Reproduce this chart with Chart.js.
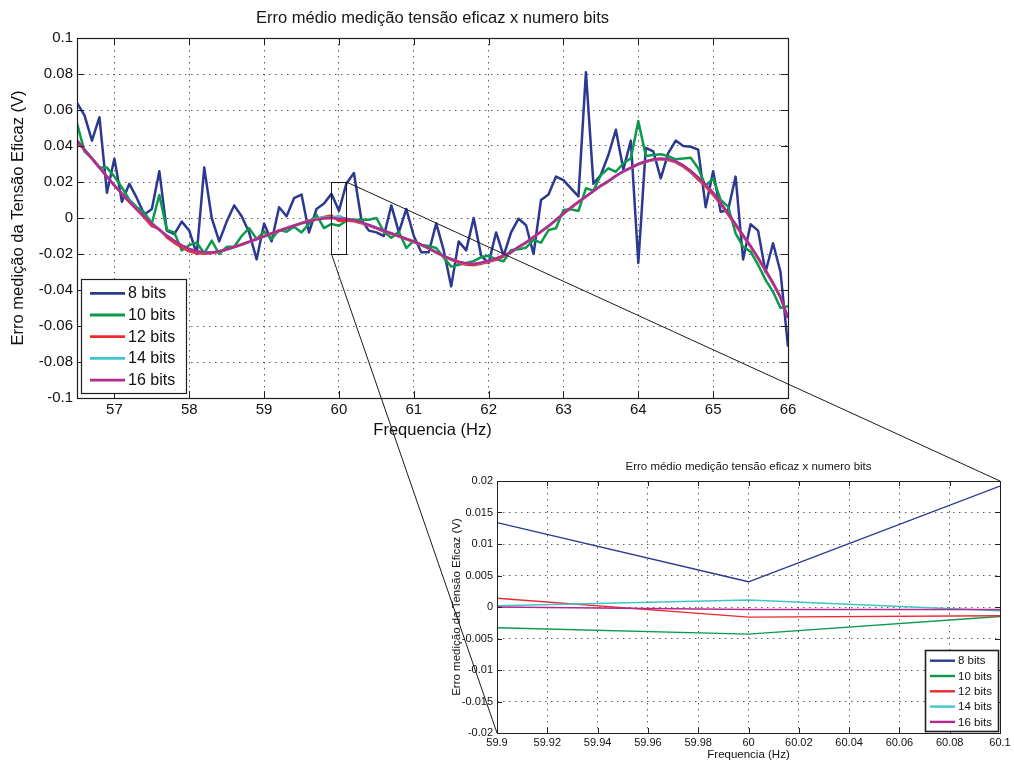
<!DOCTYPE html>
<html lang="pt">
<head>
<meta charset="utf-8">
<title>Erro médio medição tensão eficaz x numero bits</title>
<script src="https://cdn.jsdelivr.net/npm/chart.js@4.4.1/dist/chart.umd.min.js"></script>
<style>
  html, body { margin: 0; padding: 0; background: #fff; }
  #page { position: relative; width: 1014px; height: 762px; overflow: hidden; background: #fff; }
  canvas { position: absolute; display: block; }
  #mainChart { left: 0; top: 0; }
  #zoomChart { left: 440px; top: 450px; }
  #links { left: 0; top: 0; pointer-events: none; }
</style>
</head>
<body>
<div id="page">
  <canvas id="mainChart" width="1014" height="445"></canvas>
  <canvas id="zoomChart" width="574" height="312"></canvas>
  <canvas id="links" width="1014" height="762"></canvas>
</div>
<script>
// Frequency samples (Hz)
const freq = [
  56.5, 56.6, 56.7, 56.8, 56.9, 57.0, 57.1, 57.2, 57.3, 57.4,
  57.5, 57.6, 57.7, 57.8, 57.9, 58.0, 58.1, 58.2, 58.3, 58.4,
  58.5, 58.6, 58.7, 58.8, 58.9, 59.0, 59.1, 59.2, 59.3, 59.4,
  59.5, 59.6, 59.7, 59.8, 59.9, 60.0, 60.1, 60.2, 60.3, 60.4,
  60.5, 60.6, 60.7, 60.8, 60.9, 61.0, 61.1, 61.2, 61.3, 61.4,
  61.5, 61.6, 61.7, 61.8, 61.9, 62.0, 62.1, 62.2, 62.3, 62.4,
  62.5, 62.6, 62.7, 62.8, 62.9, 63.0, 63.1, 63.2, 63.3, 63.4,
  63.5, 63.6, 63.7, 63.8, 63.9, 64.0, 64.1, 64.2, 64.3, 64.4,
  64.5, 64.6, 64.7, 64.8, 64.9, 65.0, 65.1, 65.2, 65.3, 65.4,
  65.5, 65.6, 65.7, 65.8, 65.9, 66.0
];

// Mean RMS-voltage error (V) for each ADC resolution
const bits8 = [
  0.064, 0.057, 0.043, 0.056, 0.014, 0.033, 0.009, 0.019, 0.011, 0.002,
  0.005, 0.026, -0.007, -0.009, -0.002, -0.007, -0.020, 0.028, 0.000, -0.013,
  -0.002, 0.007, 0.001, -0.008, -0.023, -0.003, -0.013, 0.006, 0.001, 0.011,
  0.013, -0.008, 0.005, 0.008, 0.0134, 0.0040, 0.0192, 0.025, -0.001, -0.007,
  -0.008, -0.010, 0.007, -0.008, 0.005, -0.010, -0.019, -0.019, -0.003, -0.018,
  -0.038, -0.013, -0.018, 0.000, -0.021, -0.025, -0.008, -0.021, -0.008, -0.0004,
  -0.004, -0.020, 0.010, 0.013, 0.023, 0.021, 0.0165, 0.012, 0.081, 0.019,
  0.024, 0.035, 0.049, 0.027, 0.043, -0.025, 0.039, 0.037, 0.022, 0.036,
  0.043, 0.040, 0.0396, 0.038, 0.006, 0.026, 0.0035, 0.0044, 0.023, -0.023,
  -0.0035, -0.007, -0.030, -0.014, -0.030, -0.0715
];
const bits10 = [
  0.0526, 0.037, 0.033, 0.028, 0.028, 0.023, 0.017, 0.010, 0.006, 0.003,
  -0.003, 0.0128, -0.0067, -0.008, -0.018, -0.015, -0.0137, -0.0196, -0.0126, -0.020,
  -0.016, -0.016, -0.010, -0.0056, -0.0117, -0.0076, -0.0117, -0.0067, -0.0076, -0.0048,
  -0.008, -0.0033, 0.0017, -0.0056, -0.0033, -0.0043, -0.0015, -0.001, -0.001, -0.001,
  0.000, -0.0076, -0.011, -0.0076, -0.0167, -0.0126, -0.015, -0.0156, -0.0167, -0.022,
  -0.027, -0.026, -0.025, -0.024, -0.0217, -0.021, -0.023, -0.024, -0.0178, -0.0174,
  -0.0165, -0.0122, -0.0137, -0.0067, -0.0057, 0.0044, 0.0048, 0.0039, 0.0165, 0.0152,
  0.0239, 0.0276, 0.0257, 0.0304, 0.0331, 0.0539, 0.0344, 0.035, 0.0354, 0.0344,
  0.0326, 0.033, 0.0335, 0.0276, 0.0178, 0.022, 0.010, 0.0063, -0.0085, -0.016,
  -0.0187, -0.026, -0.0344, -0.041, -0.050, -0.049
];
const bits12 = [
  0.0425, 0.0378, 0.0332, 0.0283, 0.0228, 0.0182, 0.0133, 0.0088, 0.0045, 0.0002,
  -0.0045, -0.0062, -0.0108, -0.0138, -0.0163, -0.0185, -0.0196, -0.0199, -0.0196, -0.0188,
  -0.0176, -0.0161, -0.0146, -0.0132, -0.0115, -0.0100, -0.0085, -0.0069, -0.0055, -0.0041,
  -0.0027, -0.0014, -0.0004, 0.0006, 0.0014, -0.0016, -0.0014, -0.0018, -0.0029, -0.0042,
  -0.0058, -0.0075, -0.0088, -0.0103, -0.0118, -0.0134, -0.0151, -0.0170, -0.0192, -0.0213,
  -0.0232, -0.0249, -0.0260, -0.0262, -0.0254, -0.0243, -0.0232, -0.0214, -0.0192, -0.0163,
  -0.0138, -0.0107, -0.0077, -0.0046, -0.0012, 0.0023, 0.0056, 0.0088, 0.0118, 0.0149,
  0.0178, 0.0203, 0.0232, 0.0258, 0.0277, 0.0298, 0.0312, 0.0322, 0.0326, 0.0322,
  0.0309, 0.0285, 0.0254, 0.0214, 0.0174, 0.0128, 0.0077, 0.0018, -0.0042, -0.0101,
  -0.0160, -0.0226, -0.0295, -0.0365, -0.0443, -0.0553
];
const bits14 = [
  0.0432, 0.0381, 0.0331, 0.0281, 0.0231, 0.0181, 0.0136, 0.0091, 0.0049, 0.0009,
  -0.0029, -0.0066, -0.0099, -0.0128, -0.0153, -0.0173, -0.0186, -0.0192, -0.0191, -0.0186,
  -0.0175, -0.0163, -0.0149, -0.0134, -0.0118, -0.0103, -0.0088, -0.0072, -0.0057, -0.0042,
  -0.0029, -0.0016, -0.0006, 0.0003, 0.0002, 0.0011, -0.0006, -0.0013, -0.0025, -0.0040,
  -0.0055, -0.0071, -0.0086, -0.0101, -0.0116, -0.0131, -0.0149, -0.0169, -0.0191, -0.0211,
  -0.0229, -0.0244, -0.0253, -0.0256, -0.0249, -0.0239, -0.0226, -0.0209, -0.0191, -0.0161,
  -0.0136, -0.0106, -0.0076, -0.0045, -0.0011, 0.0024, 0.0057, 0.0089, 0.0119, 0.0149,
  0.0179, 0.0205, 0.0234, 0.0259, 0.0279, 0.0299, 0.0314, 0.0324, 0.0329, 0.0326,
  0.0314, 0.0291, 0.0261, 0.0225, 0.0184, 0.0139, 0.0084, 0.0024, -0.0036, -0.0096,
  -0.0156, -0.0221, -0.0291, -0.0361, -0.0441, -0.0556
];
const bits16 = [
  0.043, 0.038, 0.033, 0.028, 0.023, 0.018, 0.0135, 0.009, 0.0048, 0.0008,
  -0.003, -0.0065, -0.0098, -0.0127, -0.0152, -0.0172, -0.0185, -0.0191, -0.0191, -0.0185,
  -0.0174, -0.0162, -0.0148, -0.0133, -0.0118, -0.0102, -0.0087, -0.0072, -0.0057, -0.0043,
  -0.003, -0.0018, -0.0009, -0.0003, 0.0, -0.0004, -0.0004, -0.0012, -0.0024, -0.0039,
  -0.0054, -0.007, -0.0085, -0.010, -0.0115, -0.013, -0.0148, -0.0168, -0.019, -0.021,
  -0.0228, -0.0243, -0.0252, -0.0255, -0.0248, -0.0238, -0.0225, -0.0208, -0.019, -0.016,
  -0.0135, -0.0105, -0.0075, -0.0045, -0.001, 0.0025, 0.0058, 0.009, 0.012, 0.015,
  0.018, 0.0205, 0.0235, 0.026, 0.028, 0.030, 0.0315, 0.0325, 0.033, 0.0327,
  0.0315, 0.0292, 0.0262, 0.0226, 0.0185, 0.014, 0.0085, 0.0025, -0.0035, -0.0095,
  -0.0155, -0.022, -0.029, -0.036, -0.044, -0.0555
];

const seriesValues = [bits8, bits10, bits12, bits14, bits16];
const seriesNames = ['8 bits', '10 bits', '12 bits', '14 bits', '16 bits'];
const seriesColors = ['#2B3990', '#0B9A4B', '#EE2A31', '#3FC6C8', '#B5288E'];

// Axis ranges and ticks
const mainXRange = [56.5, 66];
const mainYRange = [-0.1, 0.1];
const zoomXRange = [59.9, 60.1];
const zoomYRange = [-0.02, 0.02];
const mainXTicks = [57, 58, 59, 60, 61, 62, 63, 64, 65, 66];
const mainYTicks = [-0.1, -0.08, -0.06, -0.04, -0.02, 0, 0.02, 0.04, 0.06, 0.08, 0.1];
const zoomXTicks = [59.9, 59.92, 59.94, 59.96, 59.98, 60, 60.02, 60.04, 60.06, 60.08, 60.1];
const zoomYTicks = [-0.02, -0.015, -0.01, -0.005, 0, 0.005, 0.01, 0.015, 0.02];

const chartTitle = 'Erro médio medição tensão eficaz x numero bits';
const xAxisTitle = 'Frequencia (Hz)';
const yAxisTitle = 'Erro medição da Tensão Eficaz (V)';

Chart.defaults.font.family = "'Liberation Sans', Arial, Helvetica, sans-serif";
Chart.defaults.color = '#161616';

const fmt = v => String(Number(Number(v).toFixed(4)));

function seriesPoints(values) {
  return freq.map((f, i) => ({ x: f, y: values[i] }));
}

function buildDatasets(lineWidth, clip) {
  return seriesValues.map((vals, i) => {
    const ds = {
      label: seriesNames[i],
      data: seriesPoints(vals),
      borderColor: seriesColors[i],
      backgroundColor: seriesColors[i],
      borderWidth: lineWidth,
      pointRadius: 0,
      pointHoverRadius: 0,
      tension: 0,
      fill: false,
      borderJoinStyle: 'round',
      order: seriesValues.length - i
    };
    if (clip !== undefined) ds.clip = clip;
    return ds;
  });
}

function axis(kind, o) {
  return {
    type: 'linear',
    position: kind === 'x' ? 'bottom' : 'left',
    min: o.range[0],
    max: o.range[1],
    afterBuildTicks: s => { s.ticks = o.ticks.map(v => ({ value: v })); },
    afterFit: s => { if (kind === 'x') s.height = o.size; else s.width = o.size; },
    ticks: {
      autoSkip: false, maxRotation: 0, minRotation: 0,
      padding: o.tickPad, color: '#111',
      font: { size: o.tickFont },
      callback: v => fmt(v)
    },
    grid: { color: '#5e5e5e', lineWidth: 1, drawTicks: false, tickLength: 0 },
    border: { display: false, dash: [1.5, 4.5] },
    title: {
      display: true, text: o.title, color: '#111',
      font: { size: o.titleFont },
      padding: o.titlePad
    }
  };
}

// Axes box, inward tick marks and boxed legend
const axesFrame = {
  id: 'axesFrame',
  afterDatasetsDraw(chart, args, opts) {
    const { ctx, chartArea: a, scales } = chart;
    ctx.save();
    ctx.strokeStyle = '#1e1e1e';
    ctx.lineWidth = 1;
    ctx.beginPath();
    scales.x.ticks.forEach(t => {
      const px = Math.round(scales.x.getPixelForValue(t.value)) + 0.5;
      ctx.moveTo(px, a.bottom); ctx.lineTo(px, a.bottom - opts.tickLen);
      ctx.moveTo(px, a.top); ctx.lineTo(px, a.top + opts.tickLen);
    });
    scales.y.ticks.forEach(t => {
      const py = Math.round(scales.y.getPixelForValue(t.value)) + 0.5;
      ctx.moveTo(a.left, py); ctx.lineTo(a.left + opts.tickLen, py);
      ctx.moveTo(a.right, py); ctx.lineTo(a.right - opts.tickLen, py);
    });
    ctx.stroke();
    ctx.lineWidth = opts.boxWidth;
    ctx.strokeRect(Math.round(a.left) + 0.5, Math.round(a.top) + 0.5,
                   Math.round(a.width), Math.round(a.height));

    // legend
    const L = opts.legend;
    const bx = L.anchor === 'left' ? a.left + L.dx : a.right - L.dx - L.w;
    const by = a.bottom - L.dy - L.h;
    ctx.fillStyle = '#fff';
    ctx.fillRect(bx, by, L.w, L.h);
    ctx.lineWidth = L.frame;
    ctx.strokeStyle = '#1e1e1e';
    ctx.strokeRect(Math.round(bx) + 0.5, Math.round(by) + 0.5, Math.round(L.w), Math.round(L.h));
    ctx.font = L.font + "px 'Liberation Sans', Arial, sans-serif";
    ctx.textBaseline = 'middle';
    ctx.textAlign = 'left';
    chart.data.datasets.forEach((ds, i) => {
      const ry = by + L.first + i * L.row;
      ctx.strokeStyle = ds.borderColor;
      ctx.lineWidth = L.lineWidth;
      ctx.beginPath();
      ctx.moveTo(bx + L.x1, ry); ctx.lineTo(bx + L.x2, ry);
      ctx.stroke();
      ctx.fillStyle = '#111';
      ctx.fillText(ds.label, bx + L.tx, ry + 0.5);
    });
    ctx.restore();
  }
};

const mainChart = new Chart(document.getElementById('mainChart'), {
  type: 'line',
  data: { datasets: buildDatasets(2.5) },
  plugins: [axesFrame],
  options: {
    responsive: false, animation: false, devicePixelRatio: 1,
    events: [],
    layout: { padding: { left: 0, right: 226, top: 0, bottom: 0 } },
    scales: {
      x: axis('x', { range: mainXRange, ticks: mainXTicks, size: 47, tickPad: 3, tickFont: 15,
                     title: xAxisTitle, titleFont: 16.5, titlePad: { top: 0, bottom: 5 } }),
      y: axis('y', { range: mainYRange, ticks: mainYTicks, size: 77, tickPad: 4, tickFont: 15,
                     title: yAxisTitle, titleFont: 16.5, titlePad: { top: 9, bottom: 0 } })
    },
    plugins: {
      legend: { display: false },
      tooltip: { enabled: false },
      title: {
        display: true, text: chartTitle, fullSize: false, color: '#161616',
        font: { size: 16.5, weight: 'normal' },
        padding: { top: 8.1, bottom: 10.1 }
      },
      axesFrame: {
        tickLen: 7, boxWidth: 1.2,
        legend: { anchor: 'left', dx: 4, dy: 5, w: 105, h: 114, first: 14.3, row: 21.7,
                  x1: 9, x2: 44, tx: 47, font: 16, lineWidth: 2.8, frame: 1.2 }
      }
    }
  }
});

const zoomChart = new Chart(document.getElementById('zoomChart'), {
  type: 'line',
  data: { datasets: buildDatasets(1.4, 0) },
  plugins: [axesFrame],
  options: {
    responsive: false, animation: false, devicePixelRatio: 1,
    events: [],
    layout: { padding: { left: 0, right: 14, top: 0, bottom: 0 } },
    scales: {
      x: axis('x', { range: zoomXRange, ticks: zoomXTicks, size: 29, tickPad: 3, tickFont: 11,
                     title: xAxisTitle, titleFont: 11.5, titlePad: { top: 0, bottom: 0 } }),
      y: axis('y', { range: zoomYRange, ticks: zoomYTicks, size: 57, tickPad: 4, tickFont: 11,
                     title: yAxisTitle, titleFont: 11.5, titlePad: { top: 10, bottom: 0 } })
    },
    plugins: {
      legend: { display: false },
      tooltip: { enabled: false },
      title: {
        display: true, text: chartTitle, fullSize: false, color: '#161616',
        font: { size: 11.5, weight: 'normal' },
        padding: { top: 10.1, bottom: 7.1 }
      },
      axesFrame: {
        tickLen: 5, boxWidth: 1,
        legend: { anchor: 'right', dx: 2, dy: 2, w: 73, h: 81, first: 10.7, row: 15.3,
                  x1: 5, x2: 30, tx: 33, font: 11.5, lineWidth: 2.4, frame: 1.6 }
      }
    }
  }
});

// Zoom rectangle on the main axes and the two connector lines to the detail axes
function drawZoomLinks() {
  const cv = document.getElementById('links');
  const ctx = cv.getContext('2d');
  const mainCv = document.getElementById('mainChart');
  const zoomCv = document.getElementById('zoomChart');
  const mx = mainChart.scales.x, my = mainChart.scales.y;
  const zx = zoomChart.scales.x, zy = zoomChart.scales.y;
  const za = zoomChart.chartArea;

  const x0 = mainCv.offsetLeft + mx.getPixelForValue(zx.min);
  const x1 = mainCv.offsetLeft + mx.getPixelForValue(zx.max);
  const yTop = mainCv.offsetTop + my.getPixelForValue(zy.max);
  const yBot = mainCv.offsetTop + my.getPixelForValue(zy.min);

  ctx.save();
  ctx.strokeStyle = '#1a1a1a';
  ctx.lineWidth = 1;
  ctx.strokeRect(Math.round(x0) + 0.5, Math.round(yTop) + 0.5,
                 Math.round(x1 - x0), Math.round(yBot - yTop));
  ctx.beginPath();
  ctx.moveTo(x1, yTop);
  ctx.lineTo(zoomCv.offsetLeft + za.right, zoomCv.offsetTop + za.top);
  ctx.moveTo(x0, yBot);
  ctx.lineTo(zoomCv.offsetLeft + za.left, zoomCv.offsetTop + za.bottom);
  ctx.stroke();
  ctx.restore();
}
drawZoomLinks();
</script>
</body>
</html>
